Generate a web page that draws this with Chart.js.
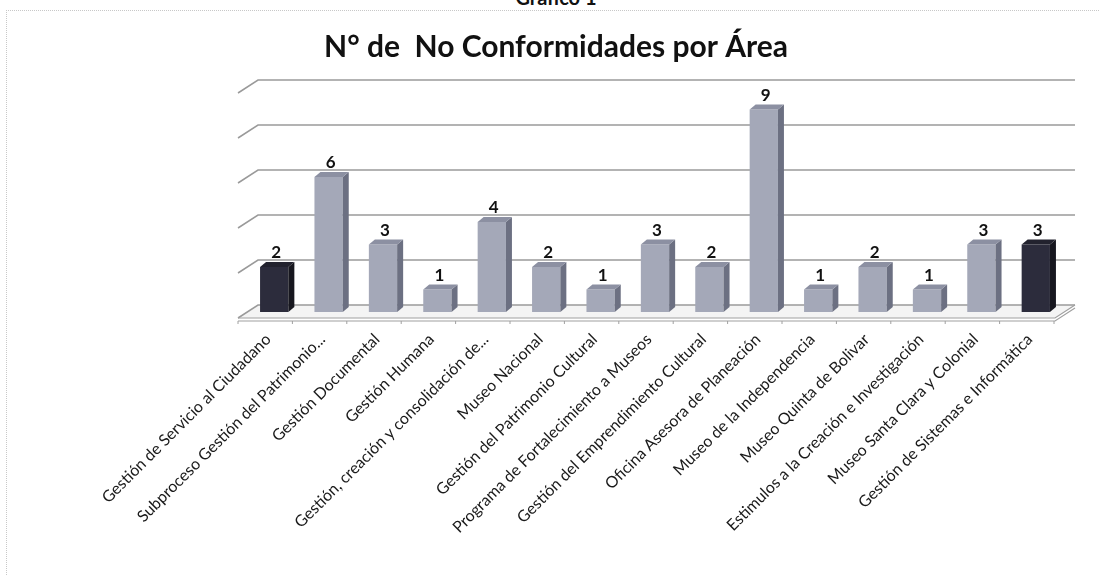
<!DOCTYPE html>
<html>
<head>
<meta charset="utf-8">
<script src="https://cdn.jsdelivr.net/npm/chart.js@4.4.1/dist/chart.umd.min.js"></script>
<style>
  html, body { margin: 0; padding: 0; background: #fff; overflow: hidden; }
  #wrap { position: relative; width: 1100px; height: 575px; }
  #frame { position: absolute; left: 6px; top: 10px; width: 1100px; height: 600px; border-left: 1px dotted #c8c8c8; border-top: 1px dotted #c8c8c8; pointer-events: none; }
  #sup { position: absolute; left: 0; width: 1112px; top: -15px; text-align: center; font: bold 20px Lato, "Open Sans", sans-serif; color: #111; }
  canvas { position: absolute; left: 0; top: 0; }
</style>
</head>
<body>
<div id="wrap">
  <div id="sup">Gráfico 1</div>
  <div id="frame"></div>
  <canvas id="c" width="1100" height="575"></canvas>
</div>
<script>
const categories = [
  "Gestión de Servicio al Ciudadano",
  "Subproceso Gestión del Patrimonio...",
  "Gestión Documental",
  "Gestión Humana",
  "Gestión, creación y consolidación de...",
  "Museo Nacional",
  "Gestión del Patrimonio Cultural",
  "Programa de Fortalecimiento a Museos",
  "Gestión del Emprendimiento Cultural",
  "Oficina Asesora de Planeación",
  "Museo de la Independencia",
  "Museo Quinta de Bolivar",
  "Estimulos a la Creación e Investigación",
  "Museo Santa Clara y Colonial",
  "Gestión de Sistemas e Informática"
];
const values = [2, 6, 3, 1, 4, 2, 1, 3, 2, 9, 1, 2, 1, 3, 3];
const highlighted = [true, false, false, false, false, false, false, false, false, false, false, false, false, false, true];
const yTicks = [0, 2, 4, 6, 8, 10];
const titleText = "N° de  No Conformidades por Área";

const FRONT = { dx: -9, dy: 6 };
const BACK = { dx: 11, dy: -7 };
const DEPTH = { dx: 6, dy: -5 };

const faceColors = highlighted.map(h => h ? '#2c2c3c' : '#a4a8b8');
const sideColors = highlighted.map(h => h ? '#17171f' : '#6c7082');
const topColors = highlighted.map(h => h ? '#22222e' : '#8c90a2');

const threeD = {
  id: 'threeD',
  beforeDatasetsDraw(chart) {
    const { ctx, chartArea, scales } = chart;
    const y = scales.y;
    const L = chartArea.left, R = chartArea.right;
    ctx.save();
    ctx.fillStyle = '#111';
    ctx.font = 'bold 30px Lato, "Open Sans", sans-serif';
    ctx.textAlign = 'center';
    ctx.textBaseline = 'middle';
    ctx.fillText(titleText, 556, 47);
    const y0 = y.getPixelForValue(0);
    ctx.fillStyle = '#f4f4f4';
    ctx.beginPath();
    ctx.moveTo(L + FRONT.dx, y0 + FRONT.dy);
    ctx.lineTo(R + FRONT.dx + 1, y0 + FRONT.dy);
    ctx.lineTo(R + BACK.dx + 1, y0 + BACK.dy);
    ctx.lineTo(L + BACK.dx, y0 + BACK.dy);
    ctx.closePath();
    ctx.fill();
    ctx.strokeStyle = '#9a9a9a';
    ctx.lineWidth = 1.5;
    yTicks.forEach(v => {
      const py = y.getPixelForValue(v);
      ctx.beginPath();
      ctx.moveTo(L + FRONT.dx, py + FRONT.dy);
      ctx.lineTo(L + BACK.dx, py + BACK.dy);
      ctx.lineTo(R + BACK.dx + 1, py + BACK.dy);
      ctx.stroke();
    });
    ctx.strokeStyle = '#a0a0a0';
    ctx.lineWidth = 1.2;
    ctx.beginPath();
    ctx.moveTo(L + FRONT.dx, y0 + FRONT.dy);
    ctx.lineTo(R + FRONT.dx + 1, y0 + FRONT.dy);
    ctx.lineTo(R + BACK.dx + 1, y0 + BACK.dy);
    ctx.stroke();
    ctx.beginPath();
    ctx.moveTo(L + FRONT.dx, y0 + FRONT.dy + 3);
    ctx.lineTo(R + FRONT.dx + 1, y0 + FRONT.dy + 3);
    ctx.lineTo(R + BACK.dx + 1, y0 + BACK.dy + 3);
    ctx.stroke();
    const n = categories.length;
    const step = (R - L) / n;
    ctx.lineWidth = 1;
    for (let i = 0; i <= n; i++) {
      const px = L + FRONT.dx + step * i;
      ctx.beginPath();
      ctx.moveTo(px, y0 + FRONT.dy + 3);
      ctx.lineTo(px, y0 + FRONT.dy + 6);
      ctx.stroke();
    }
    ctx.restore();
  },
  afterDatasetsDraw(chart) {
    const { ctx } = chart;
    const meta = chart.getDatasetMeta(0);
    ctx.save();
    meta.data.forEach((bar, i) => {
      const p = bar.getProps(['x', 'y', 'base', 'width'], true);
      const l = p.x - p.width / 2, r = p.x + p.width / 2;
      ctx.fillStyle = sideColors[i];
      ctx.beginPath();
      ctx.moveTo(r, p.y);
      ctx.lineTo(r + DEPTH.dx, p.y + DEPTH.dy);
      ctx.lineTo(r + DEPTH.dx, p.base + DEPTH.dy);
      ctx.lineTo(r, p.base);
      ctx.closePath();
      ctx.fill();
      ctx.fillStyle = topColors[i];
      ctx.beginPath();
      ctx.moveTo(l, p.y);
      ctx.lineTo(l + DEPTH.dx, p.y + DEPTH.dy);
      ctx.lineTo(r + DEPTH.dx, p.y + DEPTH.dy);
      ctx.lineTo(r, p.y);
      ctx.closePath();
      ctx.fill();
      ctx.fillStyle = '#111';
      ctx.font = 'bold 17px Lato, "Open Sans", sans-serif';
      ctx.textAlign = 'center';
      ctx.textBaseline = 'alphabetic';
      ctx.fillText(String(values[i]), p.x + 2, p.y - 9);
    });
    ctx.restore();
  }
};

new Chart(document.getElementById('c'), {
  type: 'bar',
  data: {
    labels: categories,
    datasets: [{
      data: values,
      backgroundColor: faceColors,
      borderWidth: 0,
      categoryPercentage: 1,
      barPercentage: 0.52
    }]
  },
  options: {
    responsive: false,
    animation: false,
    events: [],
    layout: { padding: { left: 247, right: 37, top: 87, bottom: 0 } },
    plugins: {
      legend: { display: false },
      tooltip: { enabled: false },
      title: { display: false }
    },
    scales: {
      x: {
        grid: { display: false },
        border: { display: false },
        ticks: {
          autoSkip: false,
          minRotation: 45,
          maxRotation: 45,
          padding: 10,
          labelOffset: -6,
          color: '#1a1a1a',
          font: { family: 'Lato, "Open Sans", sans-serif', size: 16 }
        },
        afterFit(scale) { scale.height = 263; }
      },
      y: {
        display: false,
        min: 0,
        max: 10,
        ticks: { stepSize: 2 }
      }
    }
  },
  plugins: [threeD]
});
</script>
</body>
</html>
